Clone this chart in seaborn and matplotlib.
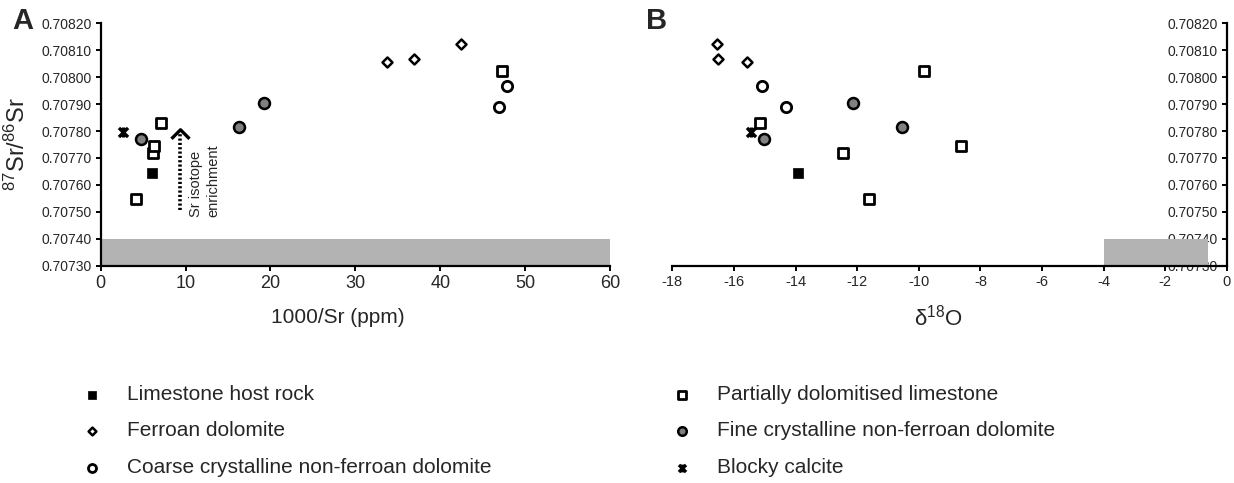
import numpy as np
import pandas as pd
import matplotlib
matplotlib.use("Agg")
import matplotlib.pyplot as plt
from matplotlib.path import Path
import seaborn as sns

# ---------------- data ----------------
groups = ["Limestone host rock", "Ferroan dolomite",
          "Coarse crystalline non-ferroan dolomite",
          "Partially dolomitised limestone",
          "Fine crystalline non-ferroan dolomite", "Blocky calcite"]

limestone_sr = [0.707645]
limestone_inv = [6.07]
limestone_d18o = [-13.91]

ferroan_sr = [0.708055, 0.708067, 0.708122]
ferroan_inv = [33.7, 36.9, 42.5]
ferroan_d18o = [-15.59, -16.51, -16.56]

coarse_sr = [0.707968, 0.707890]
coarse_inv = [47.9, 46.9]
coarse_d18o = [-15.10, -14.32]

partial_sr = [0.707549, 0.707718, 0.707746, 0.707831, 0.708023]
partial_inv = [4.2, 6.15, 6.3, 7.09, 47.3]
partial_d18o = [-11.63, -12.47, -8.64, -15.15, -9.84]

fine_sr = [0.707770, 0.707815, 0.707903]
fine_inv = [4.74, 16.3, 19.25]
fine_d18o = [-15.02, -10.53, -12.13]

blocky_sr = [0.707795]
blocky_inv = [2.66]
blocky_d18o = [-15.45]

band_sr = [0.70730, 0.70740]
band_inv = [0, 60]
band_d18o = [-4.0, -0.6]

arrow_x = 9.37
arrow_sr = [0.707508, 0.707798]

yticks = [0.70730, 0.70740, 0.70750, 0.70760, 0.70770, 0.70780,
          0.70790, 0.70800, 0.70810, 0.70820]
xticks_a = [0, 10, 20, 30, 40, 50, 60]
xticks_b = [-18, -16, -14, -12, -10, -8, -6, -4, -2, 0]

# ---------------- dataframe ----------------
rows = []
for g, sr, inv, d in zip(groups,
                         [limestone_sr, ferroan_sr, coarse_sr, partial_sr, fine_sr, blocky_sr],
                         [limestone_inv, ferroan_inv, coarse_inv, partial_inv, fine_inv, blocky_inv],
                         [limestone_d18o, ferroan_d18o, coarse_d18o, partial_d18o, fine_d18o, blocky_d18o]):
    for a, b, c in zip(sr, inv, d):
        rows.append(dict(group=g, sr=a, inv=b, d18o=c))
df = pd.DataFrame(rows)

# ---------------- style ----------------
sns.set_style("white")
plt.rcParams['font.family'] = ['Liberation Sans', 'DejaVu Sans']
plt.rcParams['mathtext.fontset'] = 'custom'
plt.rcParams['mathtext.rm'] = 'Liberation Sans'
plt.rcParams['mathtext.it'] = 'Liberation Sans'
plt.rcParams['axes.unicode_minus'] = False

star = Path([(-1, -1), (1, 1), (-1, 1), (1, -1), (0, -1.1), (0, 1.1)],
            [Path.MOVETO, Path.LINETO, Path.MOVETO, Path.LINETO, Path.MOVETO, Path.LINETO])
chevron = Path([(-1, -0.7), (0, 0.3), (1, -0.7)],
               [Path.MOVETO, Path.LINETO, Path.LINETO])

styles = {
    "Limestone host rock": dict(marker='s', s=44, color='black', edgecolor='black', linewidth=0.5),
    "Ferroan dolomite": dict(marker='D', s=26, color='white', edgecolor='black', linewidth=1.8),
    "Coarse crystalline non-ferroan dolomite": dict(marker='o', s=55, color='white', edgecolor='black', linewidth=2.0),
    "Partially dolomitised limestone": dict(marker='s', s=60, color='white', edgecolor='black', linewidth=2.0),
    "Fine crystalline non-ferroan dolomite": dict(marker='o', s=62, color='#808080', edgecolor='black', linewidth=1.8),
    "Blocky calcite": dict(marker=star, s=52, color='black', edgecolor='black', linewidth=2.4),
}

fig = plt.figure(figsize=(12.34, 4.83), dpi=100)
axA = fig.add_axes([0.0816, 0.4499, 0.4127, 0.5019])
axB = fig.add_axes([0.5448, 0.4499, 0.4495, 0.5019])

for ax, xcol in [(axA, 'inv'), (axB, 'd18o')]:
    for g in groups:
        st = dict(styles[g])
        sub = df[df.group == g]
        sns.scatterplot(data=sub, x=xcol, y='sr', ax=ax, label=g, zorder=3,
                        legend=False, **st)

# grey bands
axA.fill_between(band_inv, band_sr[0], band_sr[1], color='#b3b3b3', lw=0, zorder=1)
axB.fill_between(band_d18o, band_sr[0], band_sr[1], color='#b3b3b3', lw=0, zorder=1)

# arrow annotation
axA.plot([arrow_x, arrow_x], [arrow_sr[0], arrow_sr[1] - 0.000004], ls=(0, (0.6, 0.6)),
         lw=2.6, color='black', zorder=3)
axA.plot([arrow_x], [arrow_sr[1]], marker=chevron, ms=13, mfc='none', mec='black',
         mew=2.4, zorder=3)
axA.text(12.3, 0.707481, "Sr isotope\nenrichment", rotation=90, ha='center', va='bottom',
         multialignment='left', fontsize=10.5, linespacing=1.3)

for ax in (axA, axB):
    ax.set_ylim(0.70730, 0.70820)
    ax.set_yticks(yticks)
    ax.set_yticklabels([f"{v:.5f}" for v in yticks], fontsize=10)
    ax.spines['top'].set_visible(False)
    ax.spines['right'].set_visible(False)
    for sp in ('left', 'bottom'):
        ax.spines[sp].set_linewidth(1.6)
        ax.spines[sp].set_color('black')
    ax.tick_params(axis='both', direction='out', length=3.5, width=1.4, color='black',
                   left=True, bottom=True, pad=3)
    ax.set_ylabel('')
    ax.set_facecolor('white')

axA.set_xlim(0, 60)
axA.set_xticks(xticks_a)
axA.set_xticklabels([str(v) for v in xticks_a], fontsize=13)
axA.set_xlabel("1000/Sr (ppm)", fontsize=15, va='center')
axA.xaxis.set_label_coords(0.466, -0.212)

axB.set_xlim(-18, 0)
axB.set_xticks(xticks_b)
axB.set_xticklabels([str(v) for v in xticks_b], fontsize=10.5)
axB.spines['left'].set_position(('data', 0))
axB.set_xlabel(r"δ$^{\mathregular{18}}$O", fontsize=16, va='center')
axB.xaxis.set_label_coords(0.479, -0.212)

fig.text(17 / 1234, 1 - 144.5 / 483, r"$^{87}$Sr/$^{86}$Sr", rotation=90,
         ha='center', va='center', fontsize=17)
fig.text(23 / 1234, 1 - 21 / 483, "A", ha='center', va='center', fontsize=21,
         fontweight='bold')
fig.text(657 / 1234, 1 - 21 / 483, "B", ha='center', va='center', fontsize=21,
         fontweight='bold')

handles, labels = axA.get_legend_handles_labels()
hmap = dict(zip(labels, handles))
col1 = groups[:3]
col2 = groups[3:]
common = dict(frameon=False, fontsize=15, handlelength=1.0, handletextpad=1.18,
              labelspacing=0.84, borderpad=0, borderaxespad=0, markerscale=0.78,
              loc='center left')
fig.legend([hmap[g] for g in col1], col1, bbox_to_anchor=(81.6 / 1234, 1 - 431 / 483), **common)
fig.legend([hmap[g] for g in col2], col2, bbox_to_anchor=(671.6 / 1234, 1 - 431 / 483), **common)

fig.savefig("out.png", dpi=100, facecolor='white')
